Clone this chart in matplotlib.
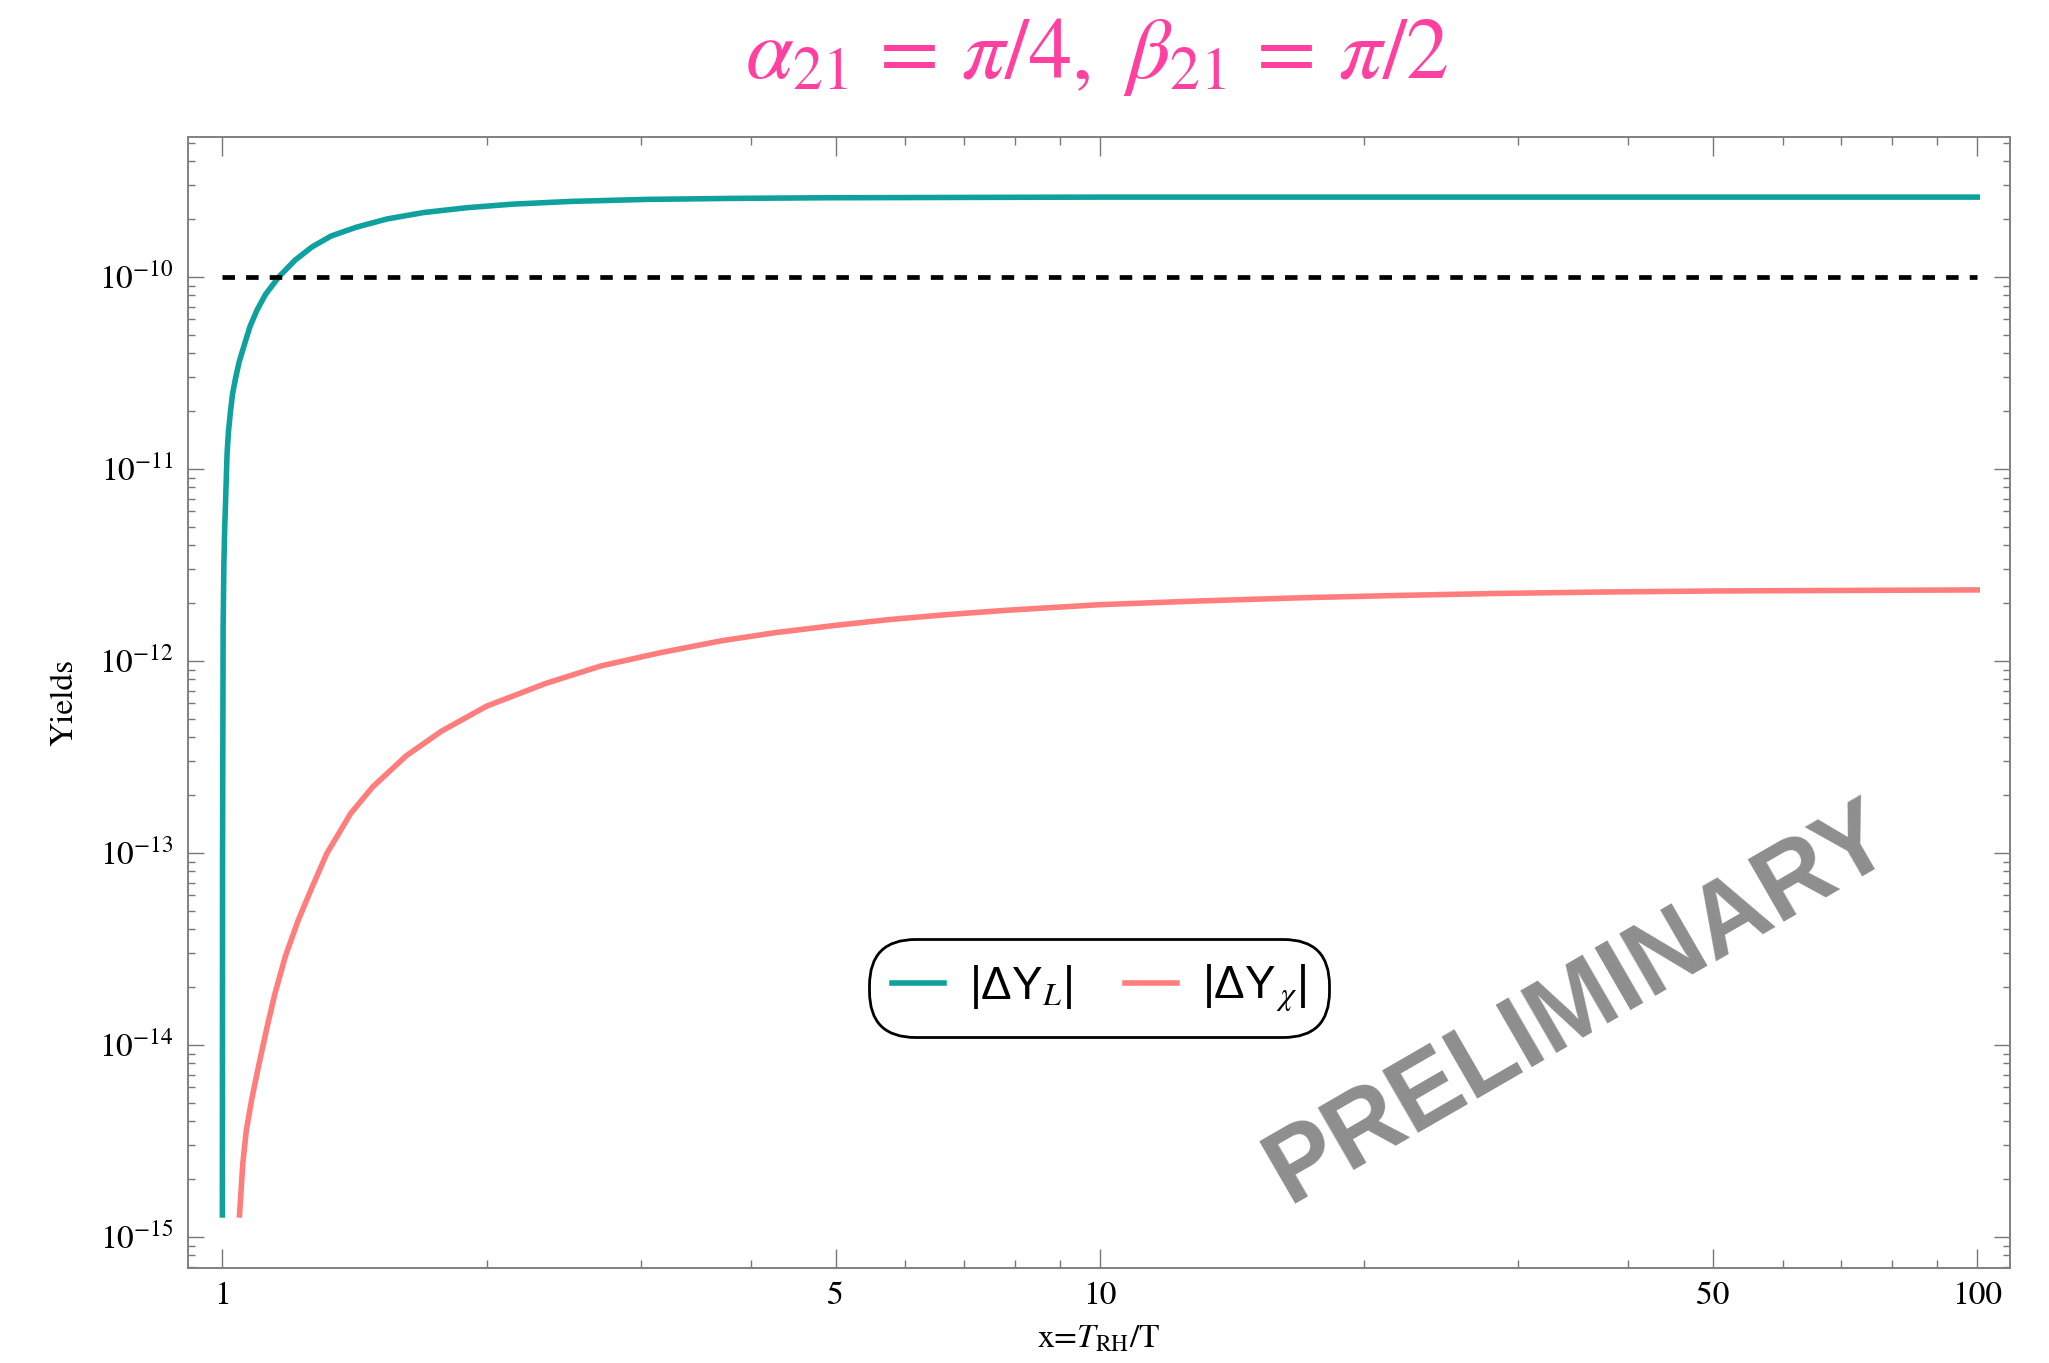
import matplotlib
matplotlib.use("Agg")
import matplotlib.pyplot as plt
from matplotlib.ticker import FixedLocator, FixedFormatter, NullFormatter

plt.rcParams['font.family'] = 'STIXGeneral'
plt.rcParams['mathtext.fontset'] = 'stix'

# values
x_L = [1.0, 1.0005, 1.002, 1.004, 1.006, 1.008, 1.010, 1.0124, 1.016, 1.021, 1.027,
       1.035, 1.045, 1.059, 1.075, 1.095, 1.12, 1.16, 1.21, 1.265, 1.33, 1.42, 1.54,
       1.695, 1.9, 2.143, 2.5, 3.05, 3.8, 4.87, 7, 10, 20, 50, 100]
y_L = [1.3e-15, 1e-13, 1.5e-12, 3.2e-12, 4.8e-12, 6.3e-12, 8.5e-12, 1.2e-11, 1.55e-11,
       1.95e-11, 2.45e-11, 2.95e-11, 3.6e-11, 4.4e-11, 5.5e-11, 6.7e-11, 8.1e-11,
       1.0e-10, 1.22e-10, 1.43e-10, 1.63e-10, 1.81e-10, 2.0e-10, 2.16e-10, 2.29e-10,
       2.39e-10, 2.47e-10, 2.53e-10, 2.56e-10, 2.58e-10, 2.59e-10, 2.6e-10, 2.6e-10,
       2.6e-10, 2.6e-10]

x_chi = [1.046, 1.055, 1.065, 1.08, 1.10, 1.125, 1.148, 1.18, 1.219, 1.265, 1.315,
         1.40, 1.483, 1.62, 1.777, 2.0, 2.332, 2.7, 3.15, 3.7, 4.26, 5.0, 5.76, 6.7,
         7.79, 10, 13, 17, 21.9, 28, 36.9, 50, 62.4, 80, 100]
y_chi = [1.3e-15, 2.4e-15, 3.6e-15, 5.2e-15, 7.8e-15, 1.25e-14, 1.85e-14, 2.9e-14,
         4.4e-14, 6.6e-14, 9.9e-14, 1.6e-13, 2.2e-13, 3.2e-13, 4.3e-13, 5.8e-13,
         7.6e-13, 9.4e-13, 1.10e-12, 1.27e-12, 1.40e-12, 1.53e-12, 1.64e-12, 1.74e-12,
         1.83e-12, 1.96e-12, 2.05e-12, 2.13e-12, 2.19e-12, 2.24e-12, 2.28e-12, 2.31e-12,
         2.32e-12, 2.33e-12, 2.34e-12]

x_obs = [1, 100]
y_obs = [1e-10, 1e-10]

xticks = [1, 5, 10, 50, 100]
xticklabels = ['1', '5', '10', '50', '100']
xminor = [2, 3, 4, 6, 7, 8, 9, 20, 30, 40, 60, 70, 80, 90]
yexp = [-15, -14, -13, -12, -11, -10]
yticks = [10.0**e for e in yexp]
yticklabels = [r'$10^{%d}$' % e for e in yexp]
yminor = [m * 10.0**e for e in range(-16, -9) for m in range(2, 10)]
yminor = [v for v in yminor if 6.9e-16 < v < 5.3e-10]

fig = plt.figure(figsize=(10.245, 6.815), dpi=200)
ax = fig.add_axes([0.0916, 0.0699, 0.8894, 0.8293])

ax.plot(x_L, y_L, color='#0fa19e', lw=2.0, label='|ΔY$_{L}$|')
ax.plot(x_chi, y_chi, color='#ff7d7d', lw=2.0, label='|ΔY$_{\\,\\chi}$|')
ax.plot(x_obs, y_obs, color='black', lw=1.7, ls=(0, (2.65, 2.35)))

ax.set_xscale('log')
ax.set_yscale('log')
ax.set_xlim(0.913, 109)
ax.set_ylim(10**-15.161, 10**-9.274)

ax.xaxis.set_major_locator(FixedLocator(xticks))
ax.xaxis.set_major_formatter(FixedFormatter(xticklabels))
ax.xaxis.set_minor_locator(FixedLocator(xminor))
ax.xaxis.set_minor_formatter(NullFormatter())
ax.yaxis.set_major_locator(FixedLocator(yticks))
ax.yaxis.set_major_formatter(FixedFormatter(yticklabels))
ax.yaxis.set_minor_locator(FixedLocator(yminor))
ax.yaxis.set_minor_formatter(NullFormatter())

ax.tick_params(which='both', direction='in', top=True, right=True,
               color='#777777', width=0.5, labelsize=12, pad=5)
ax.tick_params(axis='x', which='major', length=7)
ax.tick_params(axis='x', which='minor', length=2.8)
ax.tick_params(axis='y', which='major', length=5.6)
ax.tick_params(axis='y', which='minor', length=2.6)
for s in ax.spines.values():
    s.set_color('#808080')
    s.set_linewidth(0.7)

ax.set_ylabel('Yields', fontsize=12)
ax.yaxis.set_label_coords(-0.0596, 0.5)
ax.set_xlabel(r'x=$T_{\rm RH}$/T', fontsize=12)
ax.xaxis.set_label_coords(0.5, -0.05)

leg = ax.legend(loc='center', bbox_to_anchor=(0.5, 0.2474), ncol=2,
                prop={'family': 'Liberation Sans', 'size': 16.5},
                handlelength=1.14, handletextpad=0.54, columnspacing=1.14,
                borderpad=0.5, fancybox=True, framealpha=1)
frame = leg.get_frame()
frame.set_edgecolor('black')
frame.set_linewidth(1.0)
frame.set_boxstyle('round', pad=0, rounding_size=1.0)

ax.text(0.7635, 0.233, 'PRELIMINARY', transform=ax.transAxes, rotation=30,
        rotation_mode='anchor', ha='center', va='center', fontsize=37,
        fontweight='bold', family='Liberation Sans', color='#8e8e8e')

fig.text(0.5351, 0.9428, r'$\alpha_{21}\,=\,\pi/4,\ \beta_{21}\,=\,\pi/2$',
         color='#ff40a0', fontsize=31, ha='center', va='baseline')

fig.savefig('out.png', dpi=200)
